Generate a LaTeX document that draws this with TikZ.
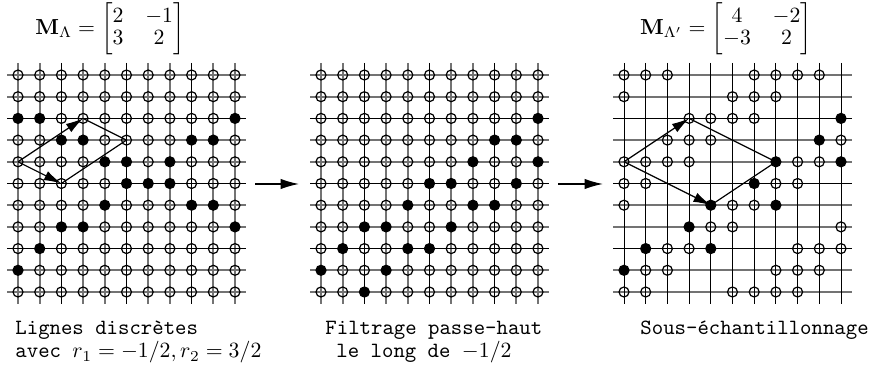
\documentclass[tikz,border=0pt]{standalone}
\usepackage{amsmath}
\usetikzlibrary{arrows.meta}
\tikzset{
  gridthin/.style={draw=black!55,line width=0.9pt},
  gridmain/.style={draw=black,line width=0.6pt},
  gridvert/.style={draw=black,line width=0.45pt},
  hollow/.style={circle,draw=black,line width=0.55pt,inner sep=0pt,minimum size=4.6pt},
  filled/.style={circle,draw=black,fill=black,line width=0.55pt,inner sep=0pt,minimum size=4.6pt},
  vec/.style={draw=black,line width=0.55pt,-{Latex[length=8pt,width=4.5pt]}},
  edge/.style={draw=black,line width=0.55pt},
  stage/.style={draw=black,line width=0.6pt,-{Latex[length=8.5pt,width=4.8pt]}},
  lbl/.style={font=\ttfamily,anchor=base west,inner sep=0pt},
  eqn/.style={inner sep=0pt}
}
\newcommand\drawpts[3]{%
  \foreach \row [count=\j] in {#3}{%
    \foreach \v [count=\i] in \row {%
      \pgfmathsetmacro\px{#2+(\i-1)*21.7}%
      \pgfmathsetmacro\py{75+(\j-1)*21.7}%
      \ifcase\v\relax \coordinate (g#1-\i-\j) at (\px,\py);
      \or \node[hollow] (g#1-\i-\j) at (\px,\py) {};
      \or \node[filled] (g#1-\i-\j) at (\px,\py) {};
      \fi}}}
\begin{document}
\begin{tikzpicture}[x=0.46pt,y=-0.46pt]
\useasboundingbox (0,0) rectangle (872,366);
% grid lines
\foreach \ox in {18,321,624}{
  \foreach \k in {1,2,4,5,7,8,10,11}{
    \draw[gridthin] ({\ox-11},{75+(\k-1)*21.7}) -- ({\ox+228},{75+(\k-1)*21.7});
  }
}
\foreach \ox in {18,321}{
  \foreach \k in {1,2,4,5,7,8,10,11}{
    \draw[gridthin] ({\ox+(\k-1)*21.7},63) -- ({\ox+(\k-1)*21.7},304);
  }
}
\foreach \ox in {18,321}{
  \foreach \k in {3,6,9}{
    \draw[gridmain] ({\ox+(\k-1)*21.7},63) -- ({\ox+(\k-1)*21.7},304);
  }
}
\foreach \k in {1,...,11}{
  \draw[gridvert] ({624+(\k-1)*21.7},63) -- ({624+(\k-1)*21.7},304);
}
\foreach \ox in {18,321,624}{
  \foreach \k in {3,6,9}{
    \draw[gridmain] ({\ox-11},{75+(\k-1)*21.7}) -- ({\ox+228},{75+(\k-1)*21.7});
  }
}
% points
\drawpts{1}{18}{%
{1,1,1,1,1,1,1,1,1,1,1},
{1,1,1,1,1,1,1,1,1,1,1},
{2,2,1,1,1,1,1,1,1,1,2},
{1,1,2,2,1,1,1,1,2,2,1},
{1,1,1,1,2,2,1,2,1,1,1},
{1,1,1,1,1,2,2,2,1,1,1},
{1,1,1,1,2,1,1,1,2,2,1},
{1,1,2,2,1,1,1,1,1,1,2},
{1,2,1,1,1,1,1,1,1,1,1},
{2,1,1,1,1,1,1,1,1,1,1},
{1,1,1,1,1,1,1,1,1,1,1}}
\drawpts{2}{321}{%
{1,1,1,1,1,1,1,1,1,1,1},
{1,1,1,1,1,1,1,1,1,1,1},
{1,1,1,1,1,1,1,1,1,1,2},
{1,1,1,1,1,1,1,1,2,2,1},
{1,1,1,1,1,1,1,2,1,1,2},
{1,1,1,1,1,2,2,1,1,2,1},
{1,1,1,1,2,1,1,2,2,1,1},
{1,1,2,2,1,1,2,1,1,1,1},
{1,2,1,1,2,2,1,1,1,1,1},
{2,1,1,2,1,1,1,1,1,1,1},
{1,1,2,1,1,1,1,1,1,1,1}}
\drawpts{3}{624}{%
{1,1,1,0,0,0,1,1,1,1,0},
{1,0,0,0,0,1,1,1,0,0,0},
{0,0,0,1,1,1,1,0,0,0,2},
{0,0,1,1,1,0,0,0,0,2,1},
{1,1,1,1,0,0,0,2,1,1,2},
{1,1,0,0,0,0,2,1,1,0,0},
{1,0,0,0,2,1,1,2,0,0,0},
{0,0,0,2,1,1,0,0,0,0,1},
{0,2,1,1,2,0,0,0,1,1,1},
{2,1,1,0,0,0,0,1,1,1,0},
{1,1,0,0,0,1,1,1,1,0,0}}
% lattice vectors
\draw[vec] (g1-1-5.center) -- (g1-4-3.center);
\draw[vec] (g1-1-5.center) -- (g1-3-6.center);
\draw[edge] (g1-4-3.center) -- (g1-6-4.center) -- (g1-3-6.center);
\draw[vec] (g3-1-5.center) -- (g3-4-3.center);
\draw[vec] (g3-1-5.center) -- (g3-5-7.center);
\draw[edge] (g3-4-3.center) -- (g3-8-5.center) -- (g3-5-7.center);
% stage arrows
\coordinate (s1a) at (255,184);
\coordinate (s1b) at (299,184);
\coordinate (s2a) at (558,184);
\coordinate (s2b) at (603,184);
\draw[stage] (s1a) -- (s1b);
\draw[stage] (s2a) -- (s2b);
% matrices
\node[eqn] (mL) at (110,29) {\renewcommand\arraystretch{0.85}$\mathbf{M}_\Lambda = \begin{bmatrix}2&-1\\3&2\end{bmatrix}$};
\node[eqn] (mR) at (726,29) {\renewcommand\arraystretch{0.85}$\mathbf{M}_{\Lambda'} = \begin{bmatrix}4&-2\\-3&2\end{bmatrix}$};
% captions
\node[lbl] (c1a) at (15,335) {Lignes discrètes};
\node[lbl] (c1b) at (15,358) {avec $r_1 = -1/2, r_2 = 3/2$};
\node[lbl] (c2a) at (325,335) {Filtrage passe-haut};
\node[lbl] (c2b) at (336,358) {le long de $-1/2$};
\node[lbl] (c3a) at (640,335) {Sous-échantillonnage};
\end{tikzpicture}
\end{document}
